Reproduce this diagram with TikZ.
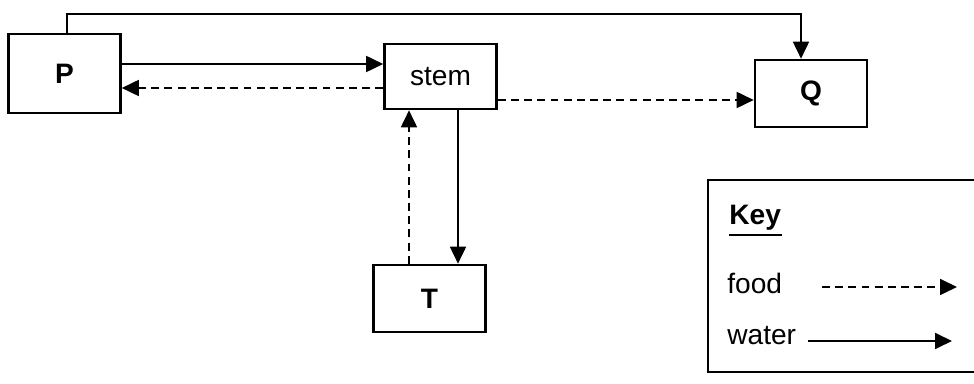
\documentclass[tikz,border=0pt]{standalone}
\usepackage{fontspec}
\setmainfont{Liberation Sans}
\usetikzlibrary{arrows.meta}
\tikzset{
    part-box/.style = {draw, line width=1.5pt, rectangle, minimum width=2.24cm, minimum height=1.34cm, font=\fontsize{16}{19}\selectfont},
    key-text/.style = {anchor=base west, inner sep=0pt, font=\fontsize{16}{19}\selectfont},
    water-arrow/.style = {line width=1pt, -{Triangle[length=3.4mm, width=3.2mm]}},
    food-arrow/.style = {water-arrow, dash pattern=on 4.5pt off 3pt},
}

\begin{document}
\begin{tikzpicture}[x=0.02cm, y=-0.02cm]
\useasboundingbox (0,0) rectangle (974,384);
\clip (0,0) rectangle (974,384);

% parts of the plant
\node[part-box, minimum height=1.58cm] (P) at (64.5,73.5) {\textbf{P}};
\node[part-box, minimum height=1.3cm] (stem) at (440.5,76.5) {stem};
\node[part-box] (Q) at (811,93.5) {\textbf{Q}};
\node[part-box] (T) at (429.5,298.5) {\textbf{T}};

% transport
\draw[water-arrow] (P.north -| 67,0) -- (67,14) -| (Q.north -| 801,0);
\draw[water-arrow] (P.east |- 0,64) -- (stem.west |- 0,64);
\draw[food-arrow] (stem.west |- 0,88) -- (P.east |- 0,88);
\draw[food-arrow] (stem.east |- 0,100) -- (Q.west |- 0,100);
\draw[water-arrow] (stem.south -| 458,0) -- (T.north -| 458,0);
\draw[food-arrow] (T.north -| 409,0) -- (stem.south -| 409,0);

% key
\draw[line width=1.5pt] (708,180) rectangle (990,372);
\node[key-text] (key) at (729,225) {\textbf{Key}};
\draw[line width=1.5pt] (key.south west) ++(0,4) -- ++(53,0);
\node[key-text] (food) at (727,294) {food};
\node[key-text] (water) at (727,345) {water};
\coordinate (food-start) at (822,287);
\coordinate (food-end) at (957,287);
\coordinate (water-start) at (808,341);
\coordinate (water-end) at (952,341);
\draw[food-arrow] (food-start) -- (food-end);
\draw[water-arrow] (water-start) -- (water-end);
\end{tikzpicture}
\end{document}
